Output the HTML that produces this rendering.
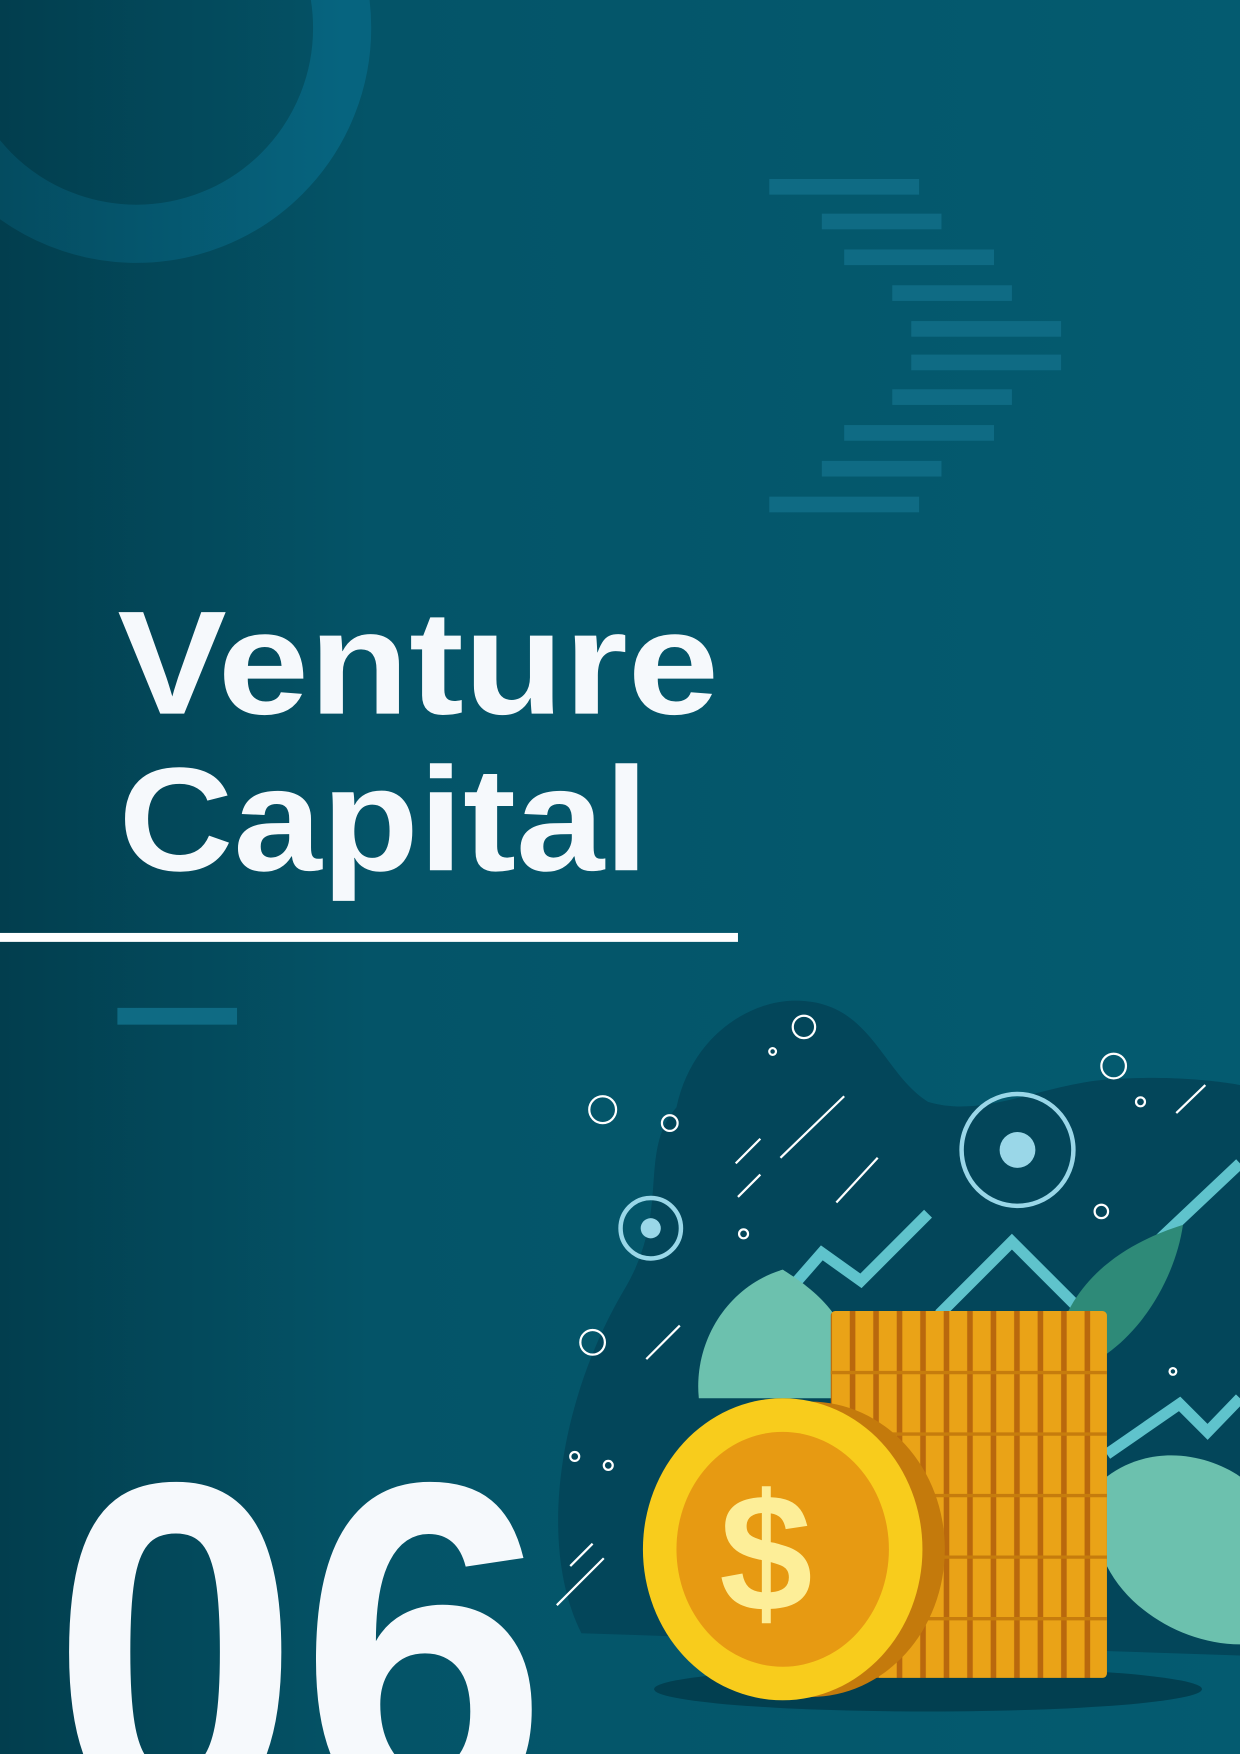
<!DOCTYPE html>
<html><head><meta charset="utf-8"><style>
html,body{margin:0;padding:0;width:1240px;height:1754px;overflow:hidden;background:#035a6e}
svg{display:block}
</style></head><body>
<svg width="1240" height="1754" viewBox="0 0 1109 1568" preserveAspectRatio="none" xmlns="http://www.w3.org/2000/svg">
<defs>
<linearGradient id="bg" x1="0" y1="0" x2="1" y2="0">
<stop offset="0" stop-color="#023e4e"/><stop offset="0.3" stop-color="#045468"/><stop offset="1" stop-color="#045b70"/>
</linearGradient>
<linearGradient id="ring" x1="0" y1="0" x2="1" y2="0">
<stop offset="0" stop-color="#04475a"/><stop offset="1" stop-color="#06647f"/>
</linearGradient>
<pattern id="stripes" x="752" y="0" width="21" height="10" patternUnits="userSpaceOnUse">
<rect x="0" y="0" width="21" height="10" fill="#eaa317"/>
<rect x="8" y="0" width="5" height="10" fill="#b9680d"/>
</pattern>
</defs>
<rect x="0" y="0" width="1109" height="1568" fill="url(#bg)"/>
<circle cx="122" cy="25" r="184" fill="none" stroke="url(#ring)" stroke-width="52"/>
<g fill="#0f6b84">
<rect x="688" y="160" width="134" height="14"/><rect x="735" y="191" width="107" height="14"/>
<rect x="755" y="223" width="134" height="14"/><rect x="798" y="255" width="107" height="14"/>
<rect x="815" y="287" width="134" height="14"/><rect x="815" y="317" width="134" height="14"/>
<rect x="798" y="348" width="107" height="14"/><rect x="755" y="380" width="134" height="14"/>
<rect x="735" y="412" width="107" height="14"/><rect x="688" y="444" width="134" height="14"/>
</g>
<text x="105" y="638" font-family="Liberation Sans, sans-serif" font-weight="bold" font-size="132" fill="#f6f9fc" textLength="538" lengthAdjust="spacingAndGlyphs">Venture</text>
<text x="106" y="778" font-family="Liberation Sans, sans-serif" font-weight="bold" font-size="132" fill="#f6f9fc" textLength="474" lengthAdjust="spacingAndGlyphs">Capital</text>
<rect x="0" y="834" width="660" height="8" fill="#ffffff"/>
<rect x="105" y="901" width="107" height="15" fill="#0f6b84"/>
<text x="46" y="1625" font-family="Liberation Sans, sans-serif" font-weight="bold" font-size="430" fill="#f6f9fc" textLength="444" lengthAdjust="spacingAndGlyphs">06</text>
<g>
<path d="M520 1460 C480 1380 500 1250 560 1150 C600 1080 570 1030 605 990 C620 920 680 890 720 895 C780 900 790 960 830 985 C880 1000 930 970 990 965 C1060 960 1109 970 1109 970 L1109 1480 Z" fill="#03465a"/>
<ellipse cx="830" cy="1510" rx="245" ry="20" fill="#023f50"/>
<g fill="none" stroke="#5fc3cc" stroke-width="10">
<polyline points="700,1160 735,1120 770,1145 830,1085"/>
<polyline points="840,1175 905,1110 970,1175 1040,1105 1109,1040"/>
<polyline points="990,1300 1055,1255 1080,1280 1109,1250"/>
</g>
<g stroke="#ffffff" stroke-width="2" fill="none">
<line x1="698" y1="1035" x2="755" y2="980"/><line x1="658" y1="1040" x2="680" y2="1018"/>
<line x1="660" y1="1070" x2="680" y2="1050"/><line x1="748" y1="1075" x2="785" y2="1035"/>
<line x1="1052" y1="995" x2="1078" y2="970"/><line x1="578" y1="1215" x2="608" y2="1185"/>
<line x1="498" y1="1435" x2="540" y2="1393"/><line x1="510" y1="1400" x2="530" y2="1380"/>
<circle cx="719" cy="918" r="10"/><circle cx="539" cy="992" r="12"/><circle cx="599" cy="1004" r="7"/>
<circle cx="996" cy="953" r="11"/><circle cx="530" cy="1200" r="11"/><circle cx="985" cy="1083" r="6"/>
<circle cx="665" cy="1103" r="4"/><circle cx="1020" cy="985" r="4"/><circle cx="691" cy="940" r="3"/>
<circle cx="514" cy="1302" r="4"/><circle cx="544" cy="1310" r="4"/><circle cx="1049" cy="1226" r="3"/>
</g>
<g stroke="#9ad7e8" stroke-width="4" fill="none">
<circle cx="910" cy="1028" r="50"/><circle cx="582" cy="1098" r="27"/>
</g>
<circle cx="910" cy="1028" r="16" fill="#9ad7e8"/><circle cx="582" cy="1098" r="9" fill="#9ad7e8"/>
<path d="M945 1200 C960 1140 1010 1110 1058 1095 C1050 1150 1010 1210 960 1225 Z" fill="#2e8a78"/>
<path d="M625 1250 C620 1200 650 1150 700 1135 C740 1160 770 1190 760 1250 Z" fill="#6cc1ae"/>
<path d="M990 1320 C1030 1290 1080 1300 1109 1320 L1109 1470 C1060 1470 1010 1440 990 1400 Z" fill="#6cc1ae"/>
<rect x="743" y="1172" width="247" height="328" rx="4" fill="url(#stripes)"/>
<g stroke="#c67c0d" stroke-width="3">
<line x1="743" y1="1227" x2="990" y2="1227"/><line x1="743" y1="1282" x2="990" y2="1282"/>
<line x1="743" y1="1337" x2="990" y2="1337"/><line x1="743" y1="1392" x2="990" y2="1392"/>
<line x1="743" y1="1447" x2="990" y2="1447"/>
</g>
<ellipse cx="725" cy="1385" rx="120" ry="132" fill="#c47a0c"/>
<ellipse cx="700" cy="1385" rx="125" ry="135" fill="#f8cc1c"/>
<ellipse cx="700" cy="1385" rx="95" ry="105" fill="#e79a12"/>
<text x="685" y="1440" text-anchor="middle" font-family="Liberation Sans, sans-serif" font-weight="bold" font-size="150" fill="#fdee98">$</text>
</g>
</svg>
</body></html>
